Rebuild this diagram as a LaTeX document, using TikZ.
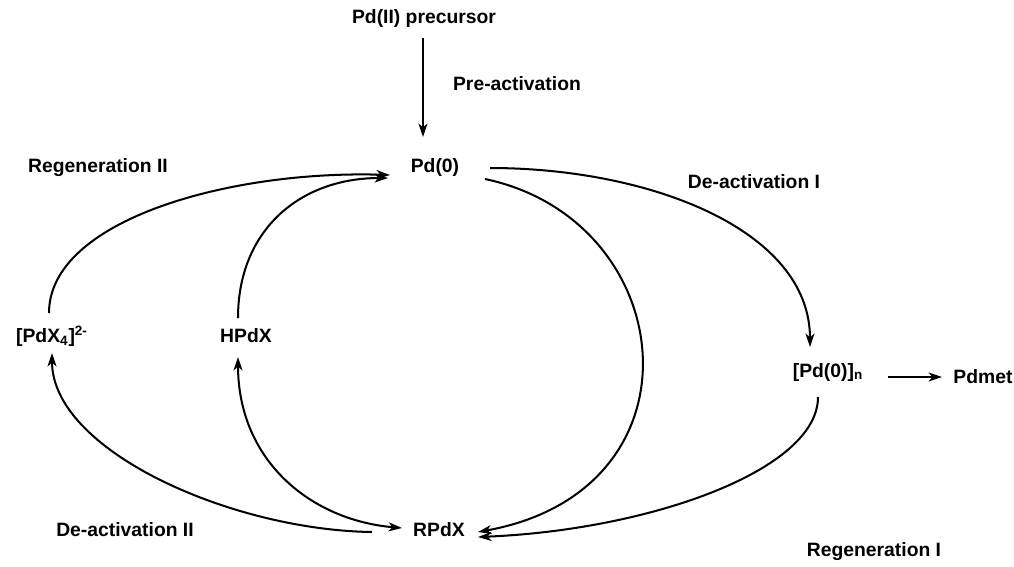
\documentclass[tikz,border=0pt]{standalone}
\usepackage{fontspec}
\setmainfont{Liberation Sans}
\usepackage{tikz}
\usetikzlibrary{arrows.meta}
\tikzset{
  species/.style={font=\fontsize{11}{13}\selectfont\bfseries, inner sep=0pt},
  steplabel/.style={font=\fontsize{11}{13}\selectfont\bfseries, inner sep=0pt},
  arrow/.style={-{Stealth[length=2.7mm, width=1.8mm, inset=0.8mm]}, line width=1.15pt, draw=black},
  twoway/.style={{Stealth[length=2.7mm, width=1.8mm, inset=0.8mm]}-{Stealth[length=2.7mm, width=1.8mm, inset=0.8mm]}, line width=1.15pt, draw=black}
}

\begin{document}
\begin{tikzpicture}[x=0.02cm, y=-0.02cm]
  \useasboundingbox[fill=white] (0,0) rectangle (1014,566);

  \node[species] (precursor) at (424,18) {Pd(II) precursor};
  \node[species] (pdzero) at (435,167) {Pd(0)};
  \node[species] (pdxfour) at (52,336) {[PdX\textsubscript{4}]\textsuperscript{2-}};
  \node[species] (hpdx) at (246,336) {HPdX};
  \node[species] (pdn) at (828,372) {[Pd(0)]\textsubscript{n}};
  \node[species] (pdmet) at (983,377) {Pdmet};
  \node[species] (rpdx) at (439,530) {RPdX};

  \node[steplabel] (preact) at (517,84) {Pre-activation};
  \node[steplabel] (regenII) at (98,168) {Regeneration II};
  \node[steplabel] (deactI) at (754,182) {De-activation I};
  \node[steplabel] (deactII) at (125,530) {De-activation II};
  \node[steplabel] (regenI) at (874,552) {Regeneration I};

  \draw[arrow] ([shift={(-1,20)}]precursor.center) -- ([shift={(-12,-30)}]pdzero.center);
  \draw[arrow] ([shift={(-3,-23)}]pdxfour.center) .. controls +(0,-93) and +(-160,-5) .. ([shift={(-45,8)}]pdzero.center);
  \draw[arrow] ([shift={(-8,-18)}]hpdx.center) .. controls +(0,-88) and +(-88,0) .. ([shift={(-47,11)}]pdzero.center);
  \draw[arrow] ([shift={(55,1)}]pdzero.center) .. controls +(160,0) and +(0,-117) .. ([shift={(-18,-25)}]pdn.center);
  \draw[arrow] ([shift={(50,12)}]pdzero.center) .. controls +(195,41) and +(232,-42) .. ([shift={(39,2)}]rpdx.center);
  \draw[arrow] ([shift={(-10,25)}]pdn.center) .. controls +(0,73) and +(172,-7) .. ([shift={(39,7)}]rpdx.center);
  \draw[twoway] ([shift={(-8,21)}]hpdx.center) .. controls +(0,103) and +(-92,-8) .. ([shift={(-37,-2)}]rpdx.center);
  \draw[arrow] ([shift={(-67,2)}]rpdx.center) .. controls +(-142,-2) and +(0,97) .. ([shift={(0,17)}]pdxfour.center);
  \draw[arrow] ([shift={(60,5)}]pdn.center) -- ([shift={(-41,0)}]pdmet.center);
\end{tikzpicture}
\end{document}
